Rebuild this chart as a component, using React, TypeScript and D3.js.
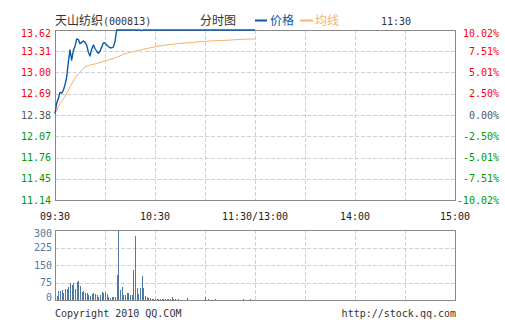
import React from "react";
import * as d3 from "d3";

const stockName = "天山纺织";
const stockCode = "(000813)";
const priceTicks = [13.62, 13.31, 13.0, 12.69, 12.38, 12.07, 11.76, 11.45, 11.14];
const pctLabels = ["10.02%", "7.51%", "5.01%", "2.50%", "0.00%", "-2.50%", "-5.01%", "-7.51%", "-10.02%"];
const prevClose = 12.38;
const timeTickMinutes = [0, 60, 120, 180, 240];
const timeTickLabels = ["09:30", "10:30", "11:30/13:00", "14:00", "15:00"];
const volTicks = [0, 75, 150, 225, 300];

// price per minute from 09:30 (minute 0) to 11:30 (minute 120)
const prices = [
  12.40, 12.55, 12.62, 12.71, 12.70, 12.74, 12.82, 12.93, 13.15, 13.33,
  13.18, 13.32, 13.38, 13.49, 13.48, 13.42, 13.44, 13.46, 13.44, 13.40,
  13.30, 13.24, 13.34, 13.40, 13.35, 13.31, 13.28, 13.31, 13.37, 13.43,
  13.43, 13.40, 13.38, 13.36, 13.36, 13.37, 13.45, 13.62,
  13.62, 13.62, 13.62, 13.62, 13.62, 13.62, 13.62, 13.62, 13.62, 13.62,
  13.62, 13.62, 13.62, 13.62, 13.61, 13.62, 13.62, 13.62, 13.62, 13.62,
  13.62, 13.62, 13.62, 13.62, 13.62, 13.62, 13.62, 13.62, 13.62, 13.62,
  13.62, 13.62, 13.62, 13.62, 13.62, 13.62, 13.62, 13.62, 13.62, 13.62,
  13.62, 13.62, 13.62, 13.62, 13.62, 13.62, 13.62, 13.62, 13.62, 13.62,
  13.62, 13.62, 13.62, 13.62, 13.62, 13.62, 13.62, 13.62, 13.62, 13.62,
  13.62, 13.62, 13.62, 13.62, 13.62, 13.62, 13.62, 13.62, 13.62, 13.62,
  13.62, 13.62, 13.62, 13.62, 13.62, 13.62, 13.62, 13.62, 13.62, 13.62,
  13.62, 13.62, 13.62,
];

// average line, sampled at minutes
const avgMinutes = [0, 1, 3, 6, 9, 12, 15, 18, 21, 25, 30, 33, 37, 41, 43, 53, 63, 73, 83, 93, 103, 113, 120];
const avgValues = [12.40, 12.45, 12.55, 12.65, 12.79, 12.92, 13.01, 13.08, 13.11, 13.13, 13.17, 13.19, 13.22, 13.265, 13.28, 13.34, 13.39, 13.42, 13.44, 13.46, 13.47, 13.485, 13.49];

// volume per minute, minutes 1..120
const volumes = [
  18, 40, 40, 43, 28, 47, 46, 54, 74, 63,
  73, 46, 76, 83, 61, 36, 40, 28, 28, 23,
  16, 26, 31, 27, 23, 14, 23, 36, 30, 36,
  27, 11, 10, 11, 14, 13, 109, 300, 43, 54,
  20, 21, 31, 31, 23, 20, 130, 273, 53, 26,
  51, 104, 53, 18, 11, 10, 7, 5, 4, 4,
  3, 4, 3, 3, 4, 3, 3, 3, 3, 14,
  4, 3, 2, 3, 2, 2, 2, 2, 7, 2,
  2, 2, 2, 2, 2, 2, 2, 2, 2, 14,
  2, 4, 2, 2, 2, 4, 2, 2, 2, 2,
  2, 2, 2, 2, 2, 2, 2, 2, 2, 2,
  2, 2, 5, 2, 2, 2, 5, 2, 2, 2,
];

const W = 505, H = 330;
const L = 55, R = 455, T = 30, B = 200;
const VT = 230, VB = 300;
const MONO = "'DejaVu Sans Mono', 'Liberation Mono', monospace";
const CJK = "'Noto Sans CJK SC', sans-serif";
const GRID = "#d0d0d0";
const BORDER = "#888888";
const RED = "#ff0000";
const GREEN = "#009900";
const GREY = "#555555";
const BLUE = "#0a5aa8";
const ORANGE = "#f5b36b";
const VOLC = "#4e7aa2";

export default function App() {
  const x = d3.scaleLinear().domain([0, 240]).range([L, R]);
  const y = d3.scaleLinear().domain([11.14, 13.62]).range([B, T]);
  const vy = d3.scaleLinear().domain([0, 300]).range([VB, VT]);

  const priceLine = d3.line<number>().x((_, i) => x(i)).y((d) => y(d))(prices) || "";
  const avgLine = d3.line<number>().x((_, i) => x(avgMinutes[i])).y((d) => y(d))(avgValues) || "";

  const vGrid = d3.range(30, 240, 30);
  const colorFor = (p: number) => (p > prevClose + 1e-9 ? RED : p < prevClose - 1e-9 ? GREEN : GREY);

  const labelY = (yy: number, i: number) => (i === 0 ? yy + 6.5 : yy + 3.5);

  return (
    <svg
      width={W}
      height={H}
      style={{ position: "absolute", left: 0, top: 0, background: "#fff" }}
    >
      <rect x={0} y={0} width={W} height={H} fill="#fff" />
      {/* header */}
      <text x={55} y={25} fontFamily={CJK} fontSize={12} fill="#333">
        {stockName}
        <tspan fontFamily={MONO} fontSize={10}>{stockCode}</tspan>
      </text>
      <text x={200} y={25} fontFamily={CJK} fontSize={12} fill="#333">分时图</text>
      <line x1={255} x2={267} y1={20.5} y2={20.5} stroke={BLUE} strokeWidth={2} />
      <text x={270} y={25} fontFamily={CJK} fontSize={12} fill={BLUE}>价格</text>
      <line x1={300} x2={313} y1={20.5} y2={20.5} stroke={ORANGE} strokeWidth={2} />
      <text x={315} y={25} fontFamily={CJK} fontSize={12} fill={ORANGE}>均线</text>
      <text x={396} y={25} fontFamily={MONO} fontSize={10} fill="#333" textAnchor="middle">11:30</text>

      {/* main grid */}
      <g shapeRendering="crispEdges">
        {priceTicks.slice(1, -1).map((p) => (
          <line key={"h" + p} x1={L} x2={R} y1={Math.round(y(p)) + 0.5} y2={Math.round(y(p)) + 0.5} stroke={GRID} strokeDasharray="4,2" />
        ))}
        {vGrid.map((m) => (
          <line key={"v" + m} x1={Math.round(x(m)) + 0.5} x2={Math.round(x(m)) + 0.5} y1={T} y2={B} stroke={GRID} strokeDasharray="4,2" />
        ))}
        <rect x={L + 0.5} y={T + 0.5} width={R - L} height={B - T} fill="none" stroke={BORDER} />
      </g>

      {/* left price labels */}
      {priceTicks.map((p, i) => (
        <text key={"pl" + p} x={51} y={labelY(y(p), i)} textAnchor="end" fontFamily={MONO} fontSize={10} fill={colorFor(p)}>
          {p.toFixed(2)}
        </text>
      ))}
      {/* right percent labels */}
      {pctLabels.map((s, i) => (
        <text key={"pr" + s} x={499} y={labelY(y(priceTicks[i]), i)} textAnchor="end" fontFamily={MONO} fontSize={10} fill={colorFor(priceTicks[i])}>
          {s}
        </text>
      ))}

      {/* lines */}
      <path d={avgLine} fill="none" stroke={ORANGE} strokeWidth={1} />
      <path d={priceLine} fill="none" stroke={BLUE} strokeWidth={1.4} strokeLinejoin="round" />

      {/* time labels */}
      {timeTickMinutes.map((m, i) => (
        <text key={"t" + m} x={x(m)} y={220} textAnchor="middle" fontFamily={MONO} fontSize={10} fill="#222">
          {timeTickLabels[i]}
        </text>
      ))}

      {/* volume grid */}
      <g shapeRendering="crispEdges">
        {volTicks.slice(1, -1).map((v) => (
          <line key={"vh" + v} x1={L} x2={R} y1={Math.round(vy(v)) + 0.5} y2={Math.round(vy(v)) + 0.5} stroke={GRID} strokeDasharray="4,2" />
        ))}
        {vGrid.map((m) => (
          <line key={"vv" + m} x1={Math.round(x(m)) + 0.5} x2={Math.round(x(m)) + 0.5} y1={VT} y2={VB} stroke={GRID} strokeDasharray="4,2" />
        ))}
        {volumes.map((v, i) => (
          <rect key={"b" + i} x={Math.round(x(i + 1))} y={vy(v)} width={1} height={Math.max(0, VB - vy(v))} fill={VOLC} />
        ))}
        <rect x={L + 0.5} y={VT + 0.5} width={R - L} height={VB - VT} fill="none" stroke={BORDER} />
      </g>
      {volTicks.map((v, i) => (
        <text key={"vl" + v} x={52} y={i === 0 ? vy(v) + 0.5 : i === volTicks.length - 1 ? vy(v) + 6.5 : vy(v) + 3.5} textAnchor="end" fontFamily={MONO} fontSize={10} fill={VOLC}>
          {v}
        </text>
      ))}

      {/* footer */}
      <text x={55} y={317} fontFamily={MONO} fontSize={10} fill="#333">Copyright 2010 QQ.COM</text>
      <text x={456} y={317} textAnchor="end" fontFamily={MONO} fontSize={10} fill="#333">http://stock.qq.com</text>
    </svg>
  );
}
